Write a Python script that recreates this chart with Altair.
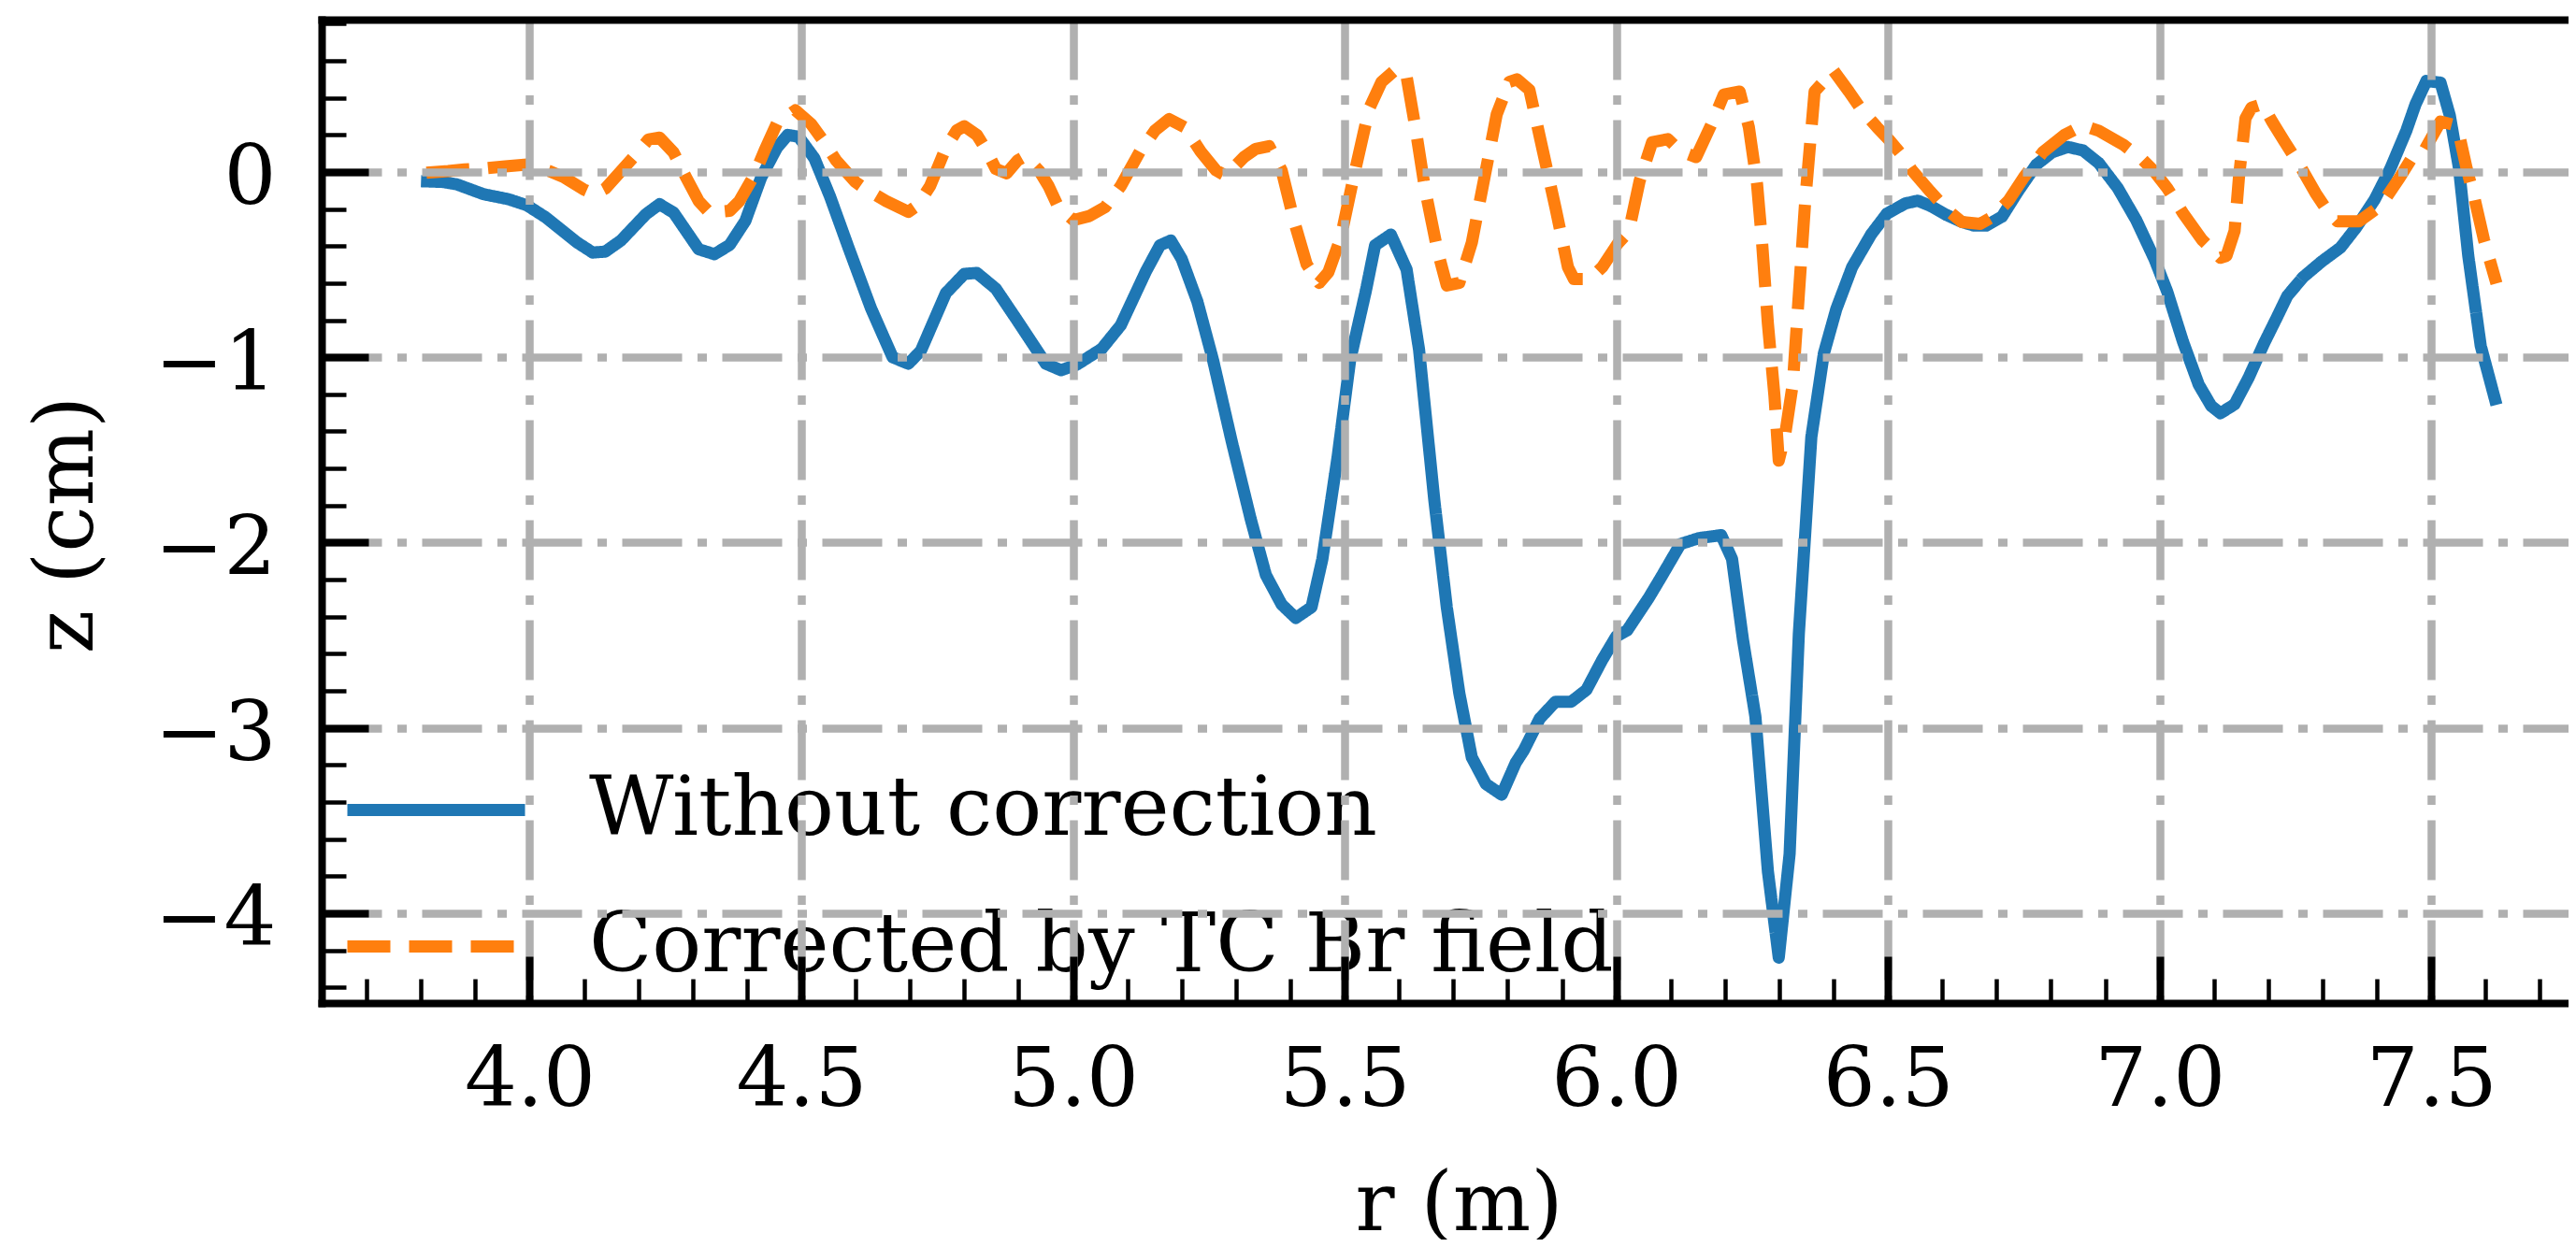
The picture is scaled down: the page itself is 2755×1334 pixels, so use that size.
import altair as alt
import pandas as pd

# ---------------- data ----------------
series_names = ["Without correction", "Corrected by TC Br field"]

blue_r = [3.80, 3.84, 3.866, 3.915, 3.961, 3.995, 4.03, 4.087, 4.116, 4.139,
          4.168, 4.214, 4.239, 4.265, 4.311, 4.34, 4.368, 4.397, 4.426, 4.455,
          4.475, 4.495, 4.524, 4.553, 4.587, 4.628, 4.668, 4.697, 4.72, 4.766,
          4.8, 4.823, 4.858, 4.898, 4.95, 4.978, 5.007, 5.053, 5.088, 5.134,
          5.16, 5.18, 5.2, 5.229, 5.258, 5.292, 5.327, 5.355, 5.384, 5.41,
          5.439, 5.459, 5.487, 5.51, 5.539, 5.556, 5.585, 5.614, 5.637, 5.665,
          5.688, 5.711, 5.734, 5.76, 5.789, 5.815, 5.83, 5.859, 5.888, 5.917,
          5.945, 5.974, 6.0, 6.02, 6.06, 6.083, 6.118, 6.152, 6.193, 6.213,
          6.233, 6.256, 6.279, 6.299, 6.319, 6.336, 6.359, 6.382, 6.405, 6.434,
          6.469, 6.498, 6.532, 6.555, 6.578, 6.607, 6.636, 6.658, 6.681, 6.71,
          6.739, 6.773, 6.802, 6.831, 6.859, 6.888, 6.923, 6.957, 6.991, 7.014,
          7.043, 7.072, 7.095, 7.112, 7.138, 7.164, 7.192, 7.215, 7.235, 7.264,
          7.298, 7.333, 7.362, 7.396, 7.425, 7.454, 7.471, 7.491, 7.517, 7.534,
          7.551, 7.568, 7.591, 7.62]
blue_z = [-0.05, -0.054, -0.067, -0.12, -0.147, -0.18, -0.246, -0.38, -0.435, -0.43,
          -0.37, -0.228, -0.174, -0.22, -0.417, -0.444, -0.394, -0.264, -0.03, 0.13,
          0.2, 0.19, 0.074, -0.134, -0.41, -0.734, -1.0, -1.035, -0.965, -0.654,
          -0.55, -0.545, -0.63, -0.804, -1.035, -1.07, -1.04, -0.954, -0.827, -0.538,
          -0.396, -0.37, -0.469, -0.7, -1.018, -1.452, -1.872, -2.175, -2.334, -2.407,
          -2.349, -2.089, -1.539, -1.018, -0.642, -0.396, -0.338, -0.526, -0.96, -1.77,
          -2.349, -2.812, -3.159, -3.303, -3.361, -3.188, -3.12, -2.95, -2.859, -2.859,
          -2.795, -2.634, -2.506, -2.474, -2.297, -2.184, -2.008, -1.976, -1.96, -2.088,
          -2.522, -2.939, -3.774, -4.24, -3.68, -2.49, -1.43, -0.98, -0.739, -0.514,
          -0.337, -0.225, -0.17, -0.155, -0.183, -0.231, -0.27, -0.289, -0.289, -0.241,
          -0.106, 0.039, 0.106, 0.135, 0.116, 0.048, -0.087, -0.26, -0.473, -0.646,
          -0.916, -1.148, -1.263, -1.302, -1.254, -1.109, -0.926, -0.79, -0.669, -0.568,
          -0.484, -0.408, -0.299, -0.148, 0.02, 0.222, 0.365, 0.491, 0.482, 0.306,
          0.02, -0.45, -0.938, -1.257]

orange_r = [3.81, 3.85, 3.88, 3.92, 3.955, 3.995, 4.036, 4.064, 4.099, 4.119,
            4.139, 4.193, 4.219, 4.239, 4.265, 4.288, 4.311, 4.331, 4.368, 4.386,
            4.414, 4.432, 4.455, 4.489, 4.518, 4.541, 4.564, 4.599, 4.616, 4.656,
            4.697, 4.714, 4.737, 4.766, 4.786, 4.8, 4.823, 4.84, 4.858, 4.878,
            4.898, 4.912, 4.938, 4.955, 4.973, 5.001, 5.03, 5.059, 5.088, 5.123,
            5.151, 5.177, 5.206, 5.235, 5.263, 5.281, 5.315, 5.336, 5.361, 5.384,
            5.407, 5.43, 5.453, 5.47, 5.493, 5.516, 5.545, 5.568, 5.596, 5.614,
            5.631, 5.648, 5.671, 5.688, 5.711, 5.734, 5.757, 5.78, 5.803, 5.817,
            5.84, 5.865, 5.888, 5.911, 5.922, 5.951, 5.974, 6.003, 6.023, 6.043,
            6.066, 6.095, 6.118, 6.147, 6.175, 6.198, 6.227, 6.244, 6.259, 6.268,
            6.279, 6.291, 6.299, 6.311, 6.325, 6.336, 6.348, 6.365, 6.4, 6.428,
            6.451, 6.48, 6.503, 6.526, 6.544, 6.578, 6.607, 6.636, 6.67, 6.693,
            6.722, 6.75, 6.785, 6.825, 6.859, 6.888, 6.934, 6.968, 6.991, 7.014,
            7.043, 7.078, 7.112, 7.123, 7.138, 7.146, 7.158, 7.169, 7.189, 7.207,
            7.23, 7.261, 7.287, 7.31, 7.327, 7.367, 7.407, 7.442, 7.465, 7.488,
            7.517, 7.54, 7.551, 7.565, 7.58, 7.597, 7.62]
orange_z = [-0.004, 0.005, 0.014, 0.02, 0.03, 0.04, 0.005, -0.03, -0.094, -0.12,
            -0.09, 0.086, 0.176, 0.185, 0.104, -0.03, -0.157, -0.22, -0.21, -0.157,
            -0.013, 0.113, 0.262, 0.333, 0.259, 0.166, 0.062, -0.053, -0.088, -0.157,
            -0.215, -0.18, -0.076, 0.13, 0.224, 0.247, 0.2, 0.12, 0.016, -0.007,
            0.062, 0.085, 0.005, -0.076, -0.19, -0.26, -0.238, -0.19, -0.076, 0.109,
            0.224, 0.285, 0.24, 0.11, 0.009, -0.02, 0.081, 0.124, 0.139, 0.009,
            -0.266, -0.498, -0.599, -0.541, -0.353, -0.035, 0.341, 0.486, 0.558, 0.515,
            0.226, -0.093, -0.425, -0.613, -0.599, -0.382, -0.035, 0.312, 0.486, 0.5,
            0.443, 0.112, -0.193, -0.514, -0.578, -0.578, -0.514, -0.385, -0.321, -0.048,
            0.161, 0.177, 0.112, 0.08, 0.257, 0.418, 0.434, 0.241, -0.064, -0.369,
            -0.819, -1.205, -1.558, -1.413, -1.14, -0.659, -0.145, 0.434, 0.546, 0.434,
            0.337, 0.241, 0.17, 0.09, 0.01, -0.106, -0.2, -0.27, -0.28, -0.241,
            -0.154, -0.029, 0.106, 0.2, 0.251, 0.222, 0.145, 0.068, 0.0, -0.087,
            -0.222, -0.366, -0.463, -0.453, -0.318, -0.029, 0.289, 0.347, 0.366, 0.272,
            0.163, 0.02, -0.114, -0.215, -0.266, -0.266, -0.182, -0.03, 0.079, 0.121,
            0.272, 0.255, 0.205, 0.02, -0.148, -0.366, -0.602]

x_major = [4.0, 4.5, 5.0, 5.5, 6.0, 6.5, 7.0, 7.5]
x_minor = [3.7, 3.8, 3.9, 4.1, 4.2, 4.3, 4.4, 4.6, 4.7, 4.8, 4.9, 5.1, 5.2, 5.3,
           5.4, 5.6, 5.7, 5.8, 5.9, 6.1, 6.2, 6.3, 6.4, 6.6, 6.7, 6.8, 6.9, 7.1,
           7.2, 7.3, 7.4, 7.6, 7.7]
y_major = [-4, -3, -2, -1, 0]
y_minor = [-4.4, -4.2, -3.8, -3.6, -3.4, -3.2, -2.8, -2.6, -2.4, -2.2, -1.8, -1.6,
           -1.4, -1.2, -0.8, -0.6, -0.4, -0.2, 0.2, 0.4, 0.6, 0.8]

x_domain = [3.6171, 7.7526]
y_domain = [-4.485, 0.822]

assert len(blue_r) == len(blue_z)
assert len(orange_r) == len(orange_z)

df = pd.concat([
    pd.DataFrame({"r": blue_r, "z": blue_z, "series": series_names[0]}),
    pd.DataFrame({"r": orange_r, "z": orange_z, "series": series_names[1]}),
], ignore_index=True)

# ---------------- layout / style ----------------
W = 2403
H = 1052
FONT = "DejaVu Serif"
FS = 88
LW = 13
GRID_DASH = [64, 16.5, 10, 16.5]

xscale = alt.Scale(domain=x_domain, nice=False, zero=False)
yscale = alt.Scale(domain=y_domain, nice=False, zero=False)

legend = alt.Legend(
    title=None, orient="none", legendX=21, legendY=744,
    symbolType="stroke", symbolSize=190 * 190, symbolStrokeWidth=LW,
    labelFont=FONT, labelFontSize=FS, labelColor="black", labelOffset=62,
    labelLimit=3000, rowPadding=-79, padding=0,
)

lines = alt.Chart(df).mark_line(
    strokeWidth=LW, strokeCap="butt", strokeJoin="round", clip=True
).encode(
    x=alt.X("r:Q", scale=xscale, axis=alt.Axis(
        orient="bottom", values=x_major, format=".1f", ticks=False,
        domain=True, domainColor="black", domainWidth=8, domainCap="square",
        grid=True, gridColor="#b0b0b0", gridWidth=8.5, gridDash=GRID_DASH, gridOpacity=1,
        labelFont=FONT, labelFontSize=FS, labelColor="black", labelPadding=109,
        labelBaseline="alphabetic", labelFlush=False, labelOverlap=False,
        title="r (m)", titleFont=FONT, titleFontSize=FS, titleFontWeight="normal",
        titleColor="black", titleX=1216, titleY=242, titleAlign="center",
        titleBaseline="alphabetic", zindex=1)),
    y=alt.Y("z:Q", scale=yscale, axis=alt.Axis(
        orient="left", values=y_major, format="d", ticks=False,
        domain=True, domainColor="black", domainWidth=8, domainCap="square",
        grid=True, gridColor="#b0b0b0", gridWidth=8.5, gridDash=GRID_DASH, gridOpacity=1,
        labelFont=FONT, labelFontSize=FS, labelColor="black", labelPadding=49,
        labelBaseline="alphabetic", labelOffset=34, labelFlush=False, labelOverlap=False,
        title="z (cm)", titleFont=FONT, titleFontSize=FS, titleFontWeight="normal",
        titleColor="black", titleX=-246, titleY=540, titleAngle=270,
        titleAlign="center", titleBaseline="alphabetic", zindex=1)),
    color=alt.Color("series:N", sort=series_names,
                    scale=alt.Scale(domain=series_names, range=["#1f77b4", "#ff7f0e"]),
                    legend=legend),
    strokeDash=alt.StrokeDash("series:N", sort=series_names,
                              scale=alt.Scale(domain=series_names, range=[[1, 0], [46, 20]]),
                              legend=legend),
)

major_ticks = alt.Chart(df).mark_point(opacity=0).encode(
    x=alt.X("r:Q", scale=xscale, axis=alt.Axis(
        orient="top", offset=-H, values=x_major, ticks=True, tickSize=50, tickWidth=8,
        tickColor="black", labels=False, domain=False, grid=False, title=None, zindex=1)),
    y=alt.Y("z:Q", scale=yscale, axis=alt.Axis(
        orient="right", offset=-W, values=y_major, ticks=True, tickSize=50, tickWidth=8,
        tickColor="black", labels=False, domain=False, grid=False, title=None, zindex=1)),
)

minor_ticks = alt.Chart(df).mark_point(opacity=0).encode(
    x=alt.X("r:Q", scale=xscale, axis=alt.Axis(
        orient="top", offset=-H, values=x_minor, ticks=True, tickSize=26, tickWidth=4.5,
        tickColor="black", labels=False, domain=False, grid=False, title=None, zindex=1)),
    y=alt.Y("z:Q", scale=yscale, axis=alt.Axis(
        orient="right", offset=-W, values=y_minor, ticks=True, tickSize=26, tickWidth=4.5,
        tickColor="black", labels=False, domain=False, grid=False, title=None, zindex=1)),
)

top_border = alt.Chart(df).mark_point(opacity=0).encode(
    x=alt.X("r:Q", scale=xscale, axis=alt.Axis(
        orient="top", ticks=False, labels=False, domain=True, domainColor="black",
        domainWidth=8, domainCap="square", grid=False, title=None, zindex=1)),
    y=alt.Y("z:Q", scale=yscale, axis=None),
)

chart = alt.layer(lines, major_ticks, minor_ticks, top_border).resolve_axis(
    x="independent", y="independent"
).properties(
    width=W, height=H,
    autosize=alt.AutoSizeParams(type="none"),
    padding={"left": 336, "top": 13, "right": 0, "bottom": 253},
    background="white",
).configure_view(stroke=None)

chart.save("out.html", embed_options={"renderer": "svg", "actions": False})
